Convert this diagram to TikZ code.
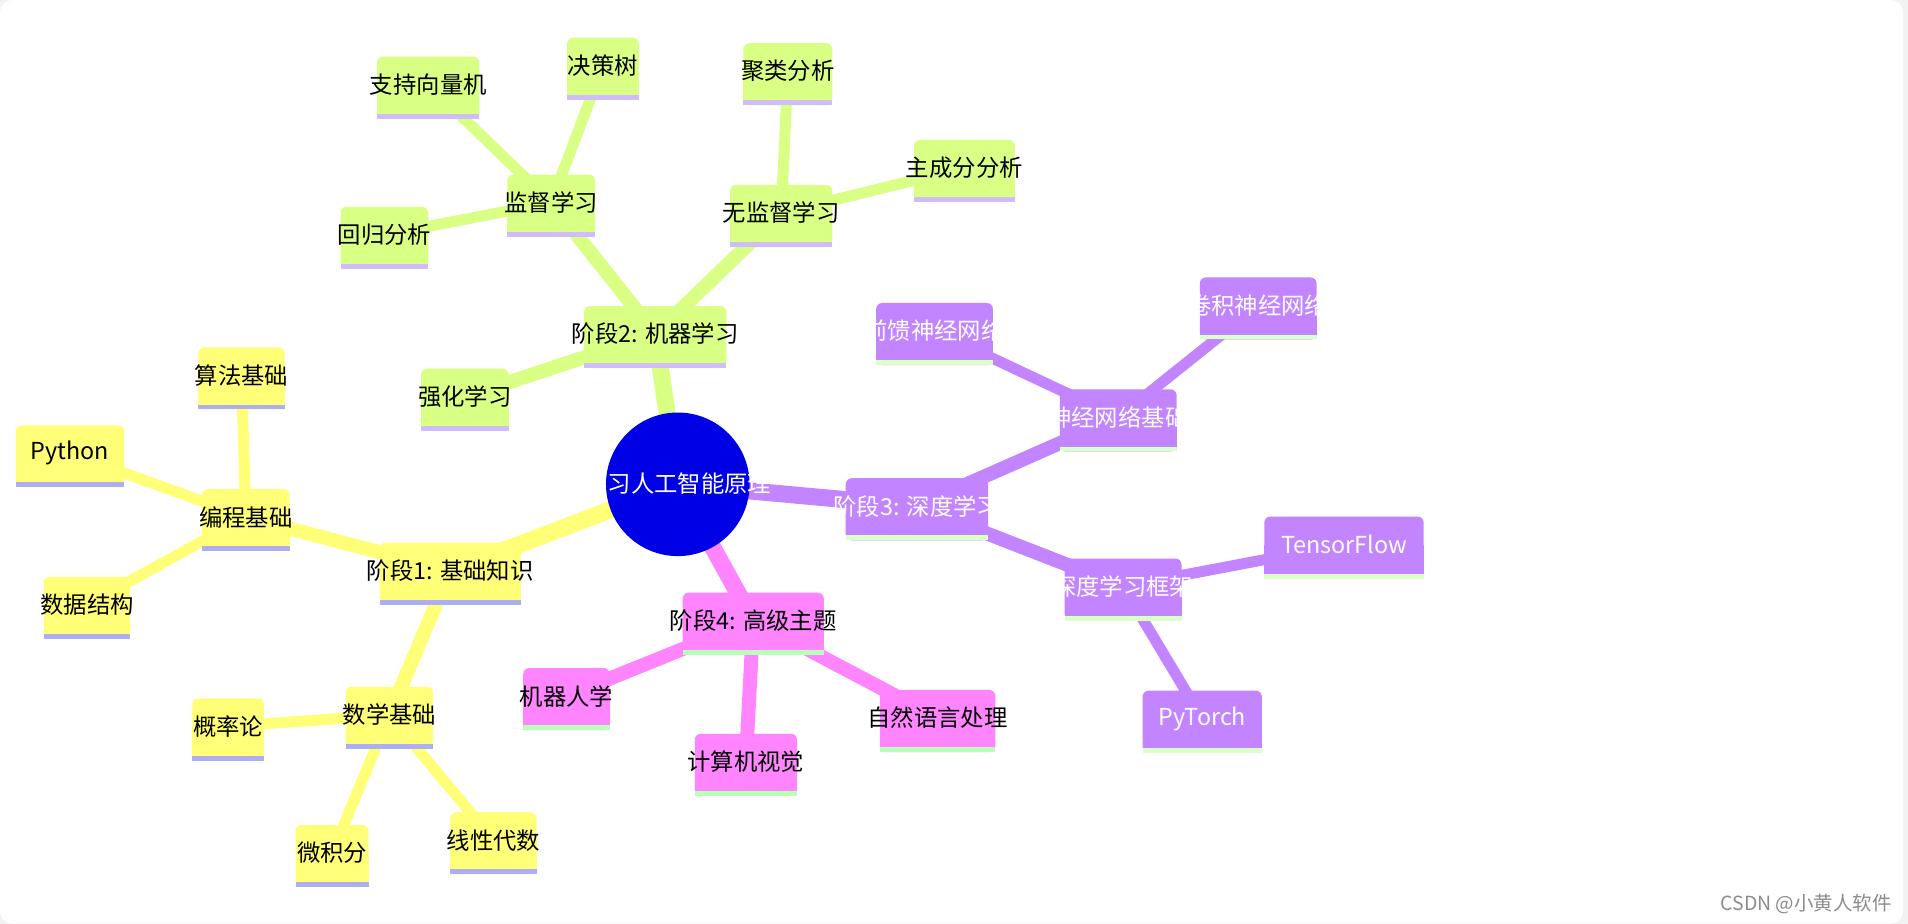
\documentclass[tikz,border=0pt]{standalone}
\usepackage{fontspec}
\setmainfont{Noto Sans CJK SC}
\definecolor{rootblue}{HTML}{0000E6}
\definecolor{ylw}{HTML}{FFFF78}
\definecolor{ylwline}{HTML}{AEAEF5}
\definecolor{grn}{HTML}{D9FF85}
\definecolor{grnline}{HTML}{D0BCFA}
\definecolor{prp}{HTML}{C285FF}
\definecolor{prpline}{HTML}{DBFFC9}
\definecolor{pnk}{HTML}{FF85FF}
\definecolor{pnkline}{HTML}{B9FFB9}
\definecolor{pagegrey}{HTML}{F2F2F2}
\pgfdeclarelayer{card}
\pgfdeclarelayer{edges}
\pgfdeclarelayer{boxes}
\pgfsetlayers{card,edges,boxes,main}

\begin{document}
\begin{tikzpicture}[
  x=0.5pt,y=-0.5pt,
  lbl/.style={font=\fontsize{9.6}{11}\selectfont,inner sep=0pt,text=black},
  wlbl/.style={lbl,text=white},
  lvl0/.style={line width=7pt},
  lvl1/.style={line width=5.75pt},
  lvl2/.style={line width=4.5pt}
]
\useasboundingbox (0,0) rectangle (1568,759);
\node[circle,fill=rootblue,minimum size=59pt,inner sep=0pt] (root) at (557,398) {};
\node[wlbl] (rootlbl) at (557,397) {学习人工智能原理};

\node[lbl] (s1) at (370,469) {阶段1: 基础知识};
\node[lbl] (prog) at (202,425) {编程基础};
\node[lbl] (algo) at (198.5,308.5) {算法基础};
\node[lbl] (py) at (57.5,372.5) {Python};
\node[lbl] (ds) at (71.5,497) {数据结构};
\node[lbl] (math) at (320,587.5) {数学基础};
\node[lbl] (prob) at (187.5,597) {概率论};
\node[lbl] (calc) at (273,701) {微积分};
\node[lbl] (linalg) at (405.5,690.5) {线性代数};

\node[lbl] (s2) at (538.5,274.5) {阶段2: 机器学习};
\node[lbl] (sup) at (453,166.5) {监督学习};
\node[lbl] (svm) at (352,69.5) {支持向量机};
\node[lbl] (tree) at (495.5,54) {决策树};
\node[lbl] (reg) at (316,193) {回归分析};
\node[lbl] (unsup) at (642,175) {无监督学习};
\node[lbl] (clus) at (647.5,58.5) {聚类分析};
\node[lbl] (pca) at (792.5,138) {主成分分析};
\node[lbl] (rl) at (382,326) {强化学习};

\node[wlbl] (s3) at (753.5,416) {阶段3: 深度学习};
\node[wlbl] (nn) at (919,343) {神经网络基础};
\node[wlbl] (ffn) at (768,272) {前馈神经网络};
\node[wlbl] (cnn) at (1034,251) {卷积神经网络};
\node[wlbl] (fw) at (923,482) {深度学习框架};
\node[wlbl] (tflow) at (1104.5,447.5) {TensorFlow};
\node[wlbl] (torch) at (988,590.5) {PyTorch};

\node[lbl] (s4) at (619,510) {阶段4: 高级主题};
\node[lbl] (robot) at (465.5,572) {机器人学};
\node[lbl] (cv) at (613,626) {计算机视觉};
\node[lbl] (nlp) at (770.5,590) {自然语言处理};

\begin{pgfonlayer}{boxes}
\foreach \n/\w in {s1/116,prog/72,algo/71,py/89,ds/71,math/72,prob/59,calc/60,linalg/71}{
  \fill[ylw,rounded corners=2.5pt] ([shift={(-\w/2,-23)}]\n.center) rectangle ([shift={(\w/2,28)}]\n.center);
  \fill[ylw] ([shift={(-\w/2,0)}]\n.center) rectangle ([shift={(\w/2,28)}]\n.center);
  \fill[ylwline] ([shift={(-\w/2,24)}]\n.center) rectangle ([shift={(\w/2,28)}]\n.center);
}
\foreach \n/\w in {s2/117,sup/72,svm/84,tree/59,reg/72,unsup/84,clus/73,pca/83,rl/72}{
  \fill[grn,rounded corners=2.5pt] ([shift={(-\w/2,-23)}]\n.center) rectangle ([shift={(\w/2,28)}]\n.center);
  \fill[grn] ([shift={(-\w/2,0)}]\n.center) rectangle ([shift={(\w/2,28)}]\n.center);
  \fill[grnline] ([shift={(-\w/2,24)}]\n.center) rectangle ([shift={(\w/2,28)}]\n.center);
}
\foreach \n/\w in {s3/117,nn/96,ffn/96,cnn/96,fw/96,tflow/131,torch/98}{
  \fill[prp,rounded corners=2.5pt] ([shift={(-\w/2,-23)}]\n.center) rectangle ([shift={(\w/2,28)}]\n.center);
  \fill[prp] ([shift={(-\w/2,0)}]\n.center) rectangle ([shift={(\w/2,28)}]\n.center);
  \fill[prpline] ([shift={(-\w/2,24)}]\n.center) rectangle ([shift={(\w/2,28)}]\n.center);
}
\foreach \n/\w in {s4/116,robot/71,cv/84,nlp/95}{
  \fill[pnk,rounded corners=2.5pt] ([shift={(-\w/2,-23)}]\n.center) rectangle ([shift={(\w/2,28)}]\n.center);
  \fill[pnk] ([shift={(-\w/2,0)}]\n.center) rectangle ([shift={(\w/2,28)}]\n.center);
  \fill[pnkline] ([shift={(-\w/2,24)}]\n.center) rectangle ([shift={(\w/2,28)}]\n.center);
}
\end{pgfonlayer}

\begin{pgfonlayer}{edges}
\foreach \a/\b/\br/\d in {root/s1/ylw/0,root/s2/grn/0,root/s3/prp/0,root/s4/pnk/0,
    s1/prog/ylw/1,s1/math/ylw/1,
    prog/algo/ylw/2,prog/py/ylw/2,prog/ds/ylw/2,
    math/prob/ylw/2,math/calc/ylw/2,math/linalg/ylw/2,
    s2/sup/grn/1,s2/unsup/grn/1,s2/rl/grn/1,
    sup/svm/grn/2,sup/tree/grn/2,sup/reg/grn/2,
    unsup/clus/grn/2,unsup/pca/grn/2,
    s3/nn/prp/1,s3/fw/prp/1,
    nn/ffn/prp/2,nn/cnn/prp/2,
    fw/tflow/prp/2,fw/torch/prp/2,
    s4/robot/pnk/1,s4/cv/pnk/1,s4/nlp/pnk/1}
  \draw[\br,lvl\d] (\a.center) -- (\b.center);
\end{pgfonlayer}

\begin{pgfonlayer}{card}
\fill[pagegrey] (0,0) rectangle (1568,759);
\fill[white,rounded corners=5pt] (0,0) rectangle (1564,759);
\end{pgfonlayer}
\node[font=\fontsize{8}{9}\selectfont,text=black!45,anchor=east,inner sep=0pt] (mark) at (1555,743) {CSDN @小黄人软件};
\end{tikzpicture}
\end{document}
